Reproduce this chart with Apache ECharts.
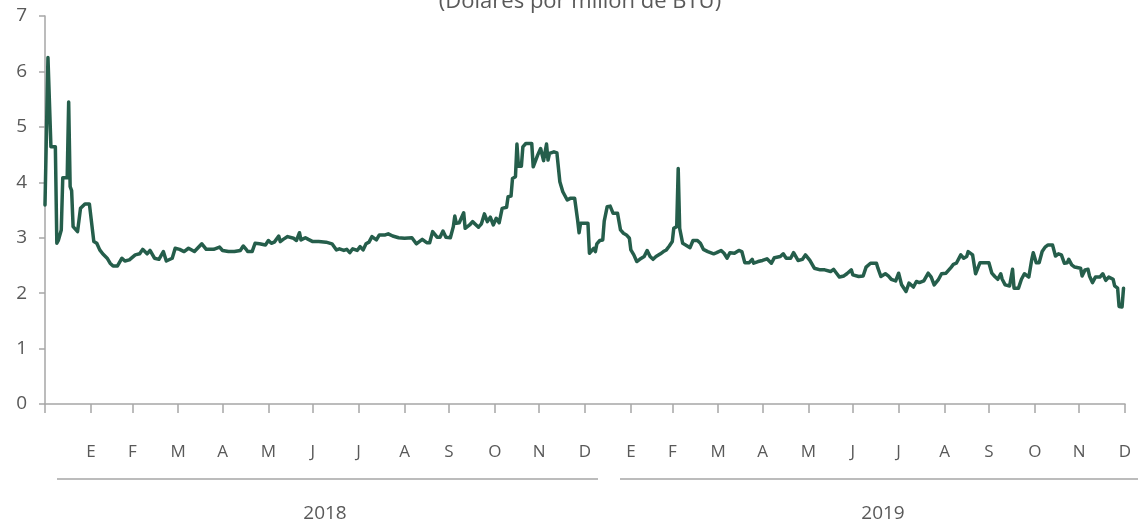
<!DOCTYPE html>
<html>
<head>
<meta charset="utf-8">
<script src="https://cdn.jsdelivr.net/npm/echarts@6/dist/echarts.min.js"></script>
<style>
html,body{margin:0;padding:0;background:#fff;}
#chart{width:1138px;height:525px;}
</style>
</head>
<body>
<div id="chart"></div>
<script>
// ---- data ----
var title = '(Dólares por millón de BTU)';
var monthLetters = ['E','F','M','A','M','J','J','A','S','O','N','D'];
var yearLabels = ['2018','2019'];
var yTicks = [0,1,2,3,4,5,6,7];

var dates = [
'2018-01-01','2018-01-03','2018-01-04','2018-01-05','2018-01-08','2018-01-09','2018-01-10','2018-01-12','2018-01-13','2018-01-16',
'2018-01-17','2018-01-18','2018-01-19','2018-01-20','2018-01-21','2018-01-23','2018-01-25','2018-01-28','2018-01-31','2018-02-03',
'2018-02-05','2018-02-07','2018-02-09','2018-02-12','2018-02-14','2018-02-16','2018-02-19','2018-02-22','2018-02-24','2018-02-27',
'2018-03-03','2018-03-06','2018-03-08','2018-03-11','2018-03-13','2018-03-16','2018-03-19','2018-03-22','2018-03-24','2018-03-28',
'2018-03-30','2018-04-02','2018-04-05','2018-04-08','2018-04-12','2018-04-17','2018-04-20','2018-04-25','2018-04-29','2018-05-01',
'2018-05-05','2018-05-09','2018-05-13','2018-05-15','2018-05-17','2018-05-18','2018-05-21','2018-05-23','2018-05-26','2018-05-30',
'2018-06-01','2018-06-03','2018-06-05','2018-06-08','2018-06-09','2018-06-11','2018-06-14','2018-06-18','2018-06-20','2018-06-22',
'2018-06-23','2018-06-26','2018-06-28','2018-07-01','2018-07-05','2018-07-10','2018-07-14','2018-07-17','2018-07-19','2018-07-22',
'2018-07-24','2018-07-26','2018-07-28','2018-07-31','2018-08-02','2018-08-04','2018-08-06','2018-08-08','2018-08-10','2018-08-13',
'2018-08-15','2018-08-19','2018-08-21','2018-08-24','2018-08-28','2018-09-01','2018-09-06','2018-09-09','2018-09-10','2018-09-13',
'2018-09-16','2018-09-18','2018-09-20','2018-09-23','2018-09-25','2018-09-27','2018-09-29','2018-10-02','2018-10-04','2018-10-05',
'2018-10-06','2018-10-08','2018-10-11','2018-10-12','2018-10-15','2018-10-17','2018-10-21','2018-10-23','2018-10-25','2018-10-27',
'2018-10-29','2018-10-31','2018-11-02','2018-11-04','2018-11-06','2018-11-09','2018-11-10','2018-11-12','2018-11-13','2018-11-15',
'2018-11-16','2018-11-17','2018-11-19','2018-11-20','2018-11-22','2018-11-26','2018-11-27','2018-11-28','2018-11-30','2018-12-02',
'2018-12-03','2018-12-04','2018-12-06','2018-12-07','2018-12-08','2018-12-11','2018-12-13','2018-12-15','2018-12-16','2018-12-17',
'2018-12-20','2018-12-22','2018-12-25','2018-12-27','2018-12-28','2018-12-29','2019-01-03','2019-01-04','2019-01-07','2019-01-08',
'2019-01-09','2019-01-11','2019-01-13','2019-01-14','2019-01-16','2019-01-18','2019-01-20','2019-01-23','2019-01-25','2019-01-27',
'2019-01-29','2019-01-31','2019-02-01','2019-02-03','2019-02-05','2019-02-07','2019-02-10','2019-02-12','2019-02-14','2019-02-16',
'2019-02-18','2019-02-21','2019-02-23','2019-02-25','2019-02-27','2019-03-01','2019-03-02','2019-03-04','2019-03-05','2019-03-06',
'2019-03-08','2019-03-10','2019-03-13','2019-03-15','2019-03-18','2019-03-20','2019-03-22','2019-03-25','2019-03-29','2019-03-31',
'2019-04-03','2019-04-05','2019-04-07','2019-04-09','2019-04-12','2019-04-15','2019-04-17','2019-04-19','2019-04-22','2019-04-24',
'2019-04-25','2019-04-28','2019-05-01','2019-05-04','2019-05-07','2019-05-09','2019-05-13','2019-05-15','2019-05-17','2019-05-20',
'2019-05-22','2019-05-25','2019-05-28','2019-05-30','2019-06-02','2019-06-05','2019-06-09','2019-06-12','2019-06-16','2019-06-18',
'2019-06-20','2019-06-22','2019-06-25','2019-06-27','2019-06-30','2019-07-01','2019-07-05','2019-07-08','2019-07-10','2019-07-13',
'2019-07-17','2019-07-18','2019-07-20','2019-07-23','2019-07-25','2019-07-27','2019-07-30','2019-08-01','2019-08-03','2019-08-06',
'2019-08-08','2019-08-11','2019-08-13','2019-08-15','2019-08-18','2019-08-21','2019-08-23','2019-08-25','2019-08-28','2019-08-30',
'2019-09-02','2019-09-05','2019-09-07','2019-09-09','2019-09-12','2019-09-14','2019-09-16','2019-09-17','2019-09-20','2019-09-22',
'2019-09-23','2019-09-25','2019-10-01','2019-10-03','2019-10-05','2019-10-07','2019-10-09','2019-10-10','2019-10-12','2019-10-15',
'2019-10-17','2019-10-18','2019-10-21','2019-10-23','2019-10-25','2019-10-28','2019-10-30','2019-10-31','2019-11-02','2019-11-04',
'2019-11-06','2019-11-08','2019-11-10','2019-11-13','2019-11-15','2019-11-17','2019-11-19','2019-11-21','2019-11-23','2019-11-24',
'2019-11-26','2019-11-28','2019-12-02','2019-12-03','2019-12-05','2019-12-07','2019-12-08','2019-12-10','2019-12-12','2019-12-15',
'2019-12-17','2019-12-19','2019-12-21','2019-12-24','2019-12-25','2019-12-27','2019-12-28','2019-12-30','2019-12-31'
];

var prices = [
3.59,6.25,6.25,4.64,4.64,2.90,2.95,3.14,4.08,4.08,
5.45,3.92,3.85,3.20,3.20,3.11,3.53,3.61,3.61,2.93,
2.90,2.78,2.71,2.63,2.54,2.49,2.49,2.63,2.58,2.60,
2.69,2.71,2.79,2.71,2.77,2.63,2.61,2.75,2.58,2.63,
2.81,2.79,2.75,2.81,2.75,2.89,2.79,2.79,2.83,2.77,
2.75,2.75,2.77,2.85,2.79,2.75,2.75,2.90,2.89,2.87,
2.95,2.90,2.92,3.03,2.93,2.97,3.02,2.99,2.95,3.09,
2.96,3.00,2.97,2.93,2.93,2.92,2.89,2.78,2.80,2.77,
2.79,2.73,2.80,2.77,2.84,2.78,2.89,2.92,3.02,2.96,
3.05,3.05,3.07,3.03,3.00,2.99,3.00,2.89,2.87,2.97,
2.91,2.91,3.11,3.01,3.01,3.12,3.01,3.00,3.20,3.39,
3.26,3.27,3.45,3.17,3.23,3.29,3.19,3.25,3.43,3.29,
3.37,3.23,3.35,3.27,3.53,3.55,3.74,3.75,4.07,4.10,
4.69,4.29,4.29,4.64,4.70,4.70,4.28,4.28,4.49,4.61,
4.58,4.39,4.69,4.40,4.52,4.55,4.53,4.01,3.99,3.83,
3.68,3.71,3.71,3.32,3.09,3.26,3.26,2.72,2.81,2.75,
2.89,2.95,2.96,3.30,3.56,3.57,3.44,3.44,3.14,3.08,
3.05,2.99,2.78,2.69,2.57,2.61,2.66,2.77,2.66,2.61,
2.66,2.71,2.75,2.78,2.85,2.93,3.17,3.20,4.25,3.17,
2.90,2.87,2.82,2.95,2.95,2.90,2.79,2.75,2.71,2.73,
2.77,2.72,2.63,2.73,2.72,2.77,2.75,2.55,2.55,2.61,
2.54,2.57,2.59,2.62,2.54,2.64,2.66,2.71,2.63,2.63,
2.73,2.59,2.61,2.69,2.59,2.45,2.42,2.42,2.39,2.43,
2.36,2.29,2.31,2.35,2.42,2.33,2.30,2.31,2.47,2.54,
2.54,2.45,2.30,2.35,2.31,2.25,2.22,2.36,2.15,2.03,
2.18,2.11,2.21,2.19,2.22,2.36,2.29,2.15,2.25,2.35,
2.36,2.45,2.52,2.54,2.69,2.63,2.66,2.75,2.69,2.35,
2.35,2.55,2.55,2.36,2.30,2.25,2.35,2.25,2.15,2.13,
2.43,2.09,2.09,2.25,2.35,2.29,2.61,2.73,2.55,2.55,
2.75,2.83,2.87,2.87,2.67,2.71,2.69,2.54,2.55,2.61,
2.51,2.47,2.45,2.31,2.42,2.43,2.31,2.19,2.29,2.29,
2.35,2.23,2.29,2.25,2.13,2.09,1.76,1.75,2.09
];

// ---- daily categories for the axis (calendar days 2018-01-01 .. 2020-01-01) ----
function pad(n){return (n<10?'0':'')+n;}
var days = [];
(function(){
  var t = Date.UTC(2018,0,1), end = Date.UTC(2020,0,1);
  for (; t <= end; t += 86400000) {
    var d = new Date(t);
    days.push(d.getUTCFullYear()+'-'+pad(d.getUTCMonth()+1)+'-'+pad(d.getUTCDate()));
  }
})();

var seriesData = dates.map(function(d,i){return [d, prices[i]];});

var textColor = '#595959';
var axisColor = '#a6a6a6';
var lineColor = '#255e4b';
var fontFam = '"Open Sans", "Noto Sans", sans-serif';

var chart = echarts.init(document.getElementById('chart'), null, {renderer:'canvas'});
chart.setOption({
  animation: false,
  backgroundColor: '#ffffff',
  grid: {left: 45, right: 13, top: 16, bottom: 121, containLabel: false},
  xAxis: {
    type: 'category',
    data: days,
    boundaryGap: false,
    axisLine: {show: true, lineStyle: {color: axisColor, width: 1.5}},
    axisTick: {
      show: true, length: 9,
      lineStyle: {color: axisColor, width: 1.5},
      interval: function(idx, val){ return val.slice(8) === '01'; }
    },
    axisLabel: {
      show: true,
      interval: function(idx, val){ return val.slice(8) === '01'; },
      margin: 40,
      color: textColor,
      fontSize: 17,
      fontFamily: fontFam,
      formatter: function(val, idx){
        if (idx === 0) return '';
        var m = parseInt(val.slice(5,7),10) - 1;
        return monthLetters[(m + 11) % 12];
      }
    },
    splitLine: {show: false}
  },
  yAxis: {
    type: 'value',
    min: yTicks[0], max: yTicks[yTicks.length-1], interval: 1,
    axisLine: {show: true, lineStyle: {color: axisColor, width: 1.5}},
    axisTick: {show: true, length: 6, lineStyle: {color: axisColor, width: 1.5}},
    axisLabel: {color: textColor, fontSize: 19, fontFamily: fontFam, margin: 18},
    splitLine: {show: false}
  },
  series: [{
    type: 'line',
    data: seriesData,
    showSymbol: false,
    symbol: 'none',
    smooth: false,
    lineStyle: {color: lineColor, width: 3.5, join: 'round', cap: 'round'},
    itemStyle: {color: lineColor}
  }],
  graphic: [
    {type:'text', x: 580, y: 13, style:{text: title, fill: textColor, font: '22px ' + fontFam, textAlign:'center', textVerticalAlign:'bottom'}},
    {type:'line', shape:{x1:57, y1:479, x2:598, y2:479}, style:{stroke: axisColor, lineWidth: 1.5}},
    {type:'line', shape:{x1:620, y1:479, x2:1138, y2:479}, style:{stroke: axisColor, lineWidth: 1.5}},
    {type:'text', x: 325, y: 514, style:{text: yearLabels[0], fill: textColor, font: '19px ' + fontFam, textAlign:'center', textVerticalAlign:'middle'}},
    {type:'text', x: 883, y: 514, style:{text: yearLabels[1], fill: textColor, font: '19px ' + fontFam, textAlign:'center', textVerticalAlign:'middle'}}
  ]
});
</script>
</body>
</html>
